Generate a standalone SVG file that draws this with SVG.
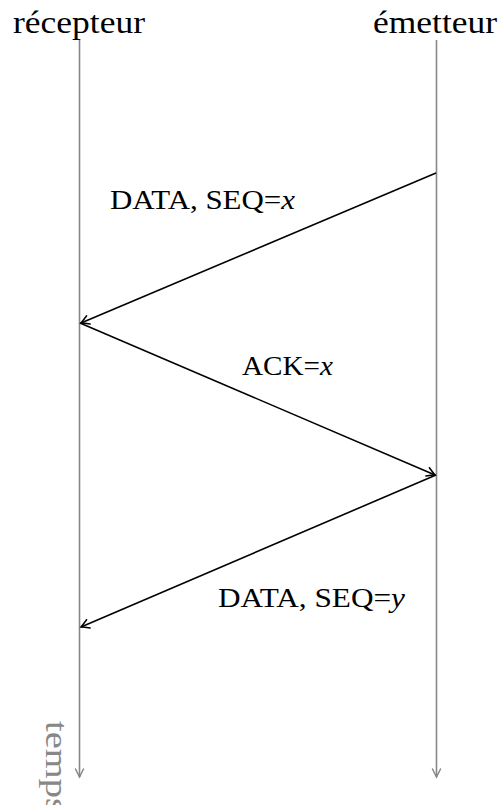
<svg xmlns="http://www.w3.org/2000/svg" width="501" height="805" viewBox="0 0 501 805">
<style>
.t{font-family:"Liberation Serif","Times New Roman",serif;fill:#000}
.lab{font-size:32px}
.msg{font-size:27px}
.i{font-style:italic}
.time{stroke:#888;stroke-width:1.6;fill:none}
.arr{stroke:#000;stroke-width:1.6;fill:none}
</style>
<defs>
<marker id="ha" markerWidth="14" markerHeight="12" viewBox="-10 -6 12 12" refX="0" refY="0" orient="auto" markerUnits="userSpaceOnUse">
<path d="M-8,-4.5 Q-3,-1.5 0,0 Q-3,1.5 -8,4.5" fill="none" stroke="#000" stroke-width="1.5" stroke-linecap="round"/>
</marker>
<marker id="hg" markerWidth="14" markerHeight="12" viewBox="-10 -6 12 12" refX="0" refY="0" orient="auto" markerUnits="userSpaceOnUse">
<path d="M-8,-4 Q-3,-1.5 0,0 Q-3,1.5 -8,4" fill="none" stroke="#888" stroke-width="1.5" stroke-linecap="round"/>
</marker>
</defs>
<g id="recepteur">
<text class="t lab" x="13" y="33" textLength="132" lengthAdjust="spacingAndGlyphs">récepteur</text>
<line class="time" x1="79.5" y1="40" x2="79.5" y2="777" marker-end="url(#hg)"/>
<text class="t" font-size="31" style="fill:#888" transform="translate(46,721) rotate(90)" textLength="92" lengthAdjust="spacingAndGlyphs">temps</text>
</g>
<g id="emetteur">
<text class="t lab" x="373" y="33" textLength="124" lengthAdjust="spacingAndGlyphs">émetteur</text>
<line class="time" x1="436.5" y1="40" x2="436.5" y2="777" marker-end="url(#hg)"/>
</g>
<g id="connectors">
<line class="arr" x1="436" y1="173" x2="81" y2="323" marker-end="url(#ha)"/>
<line class="arr" x1="80" y1="323" x2="435" y2="475" marker-end="url(#ha)"/>
<line class="arr" x1="436" y1="475" x2="81" y2="627" marker-end="url(#ha)"/>
</g>
<g id="labels">
<text class="t msg" x="110" y="209" textLength="185" lengthAdjust="spacingAndGlyphs">DATA, SEQ=<tspan class="i">x</tspan></text>
<text class="t msg" x="242" y="375" textLength="91" lengthAdjust="spacingAndGlyphs">ACK=<tspan class="i">x</tspan></text>
<text class="t msg" x="218" y="607" textLength="187" lengthAdjust="spacingAndGlyphs">DATA, SEQ=<tspan class="i">y</tspan></text>
</g>
</svg>
